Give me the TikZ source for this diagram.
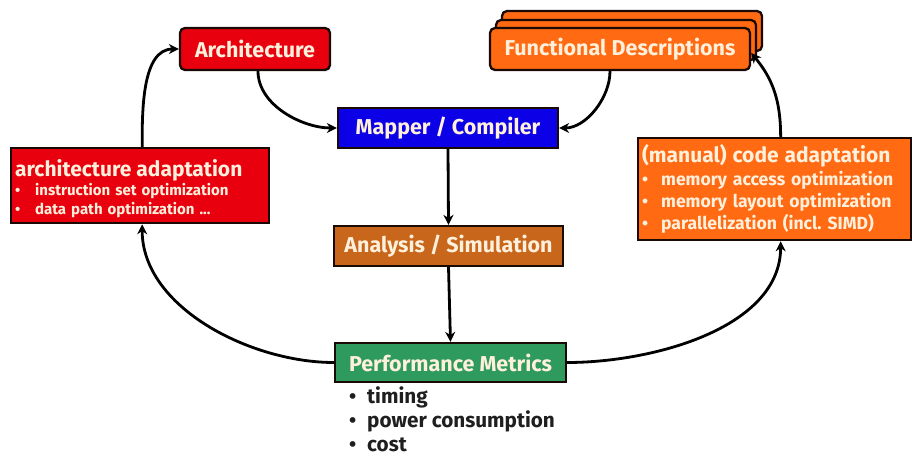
\documentclass[tikz,border=0pt]{standalone}
\usepackage{fontspec}
\setmainfont{Fira Sans}
\usetikzlibrary{arrows.meta}
\definecolor{archred}{HTML}{E8000E}
\definecolor{funcorange}{HTML}{FF6A12}
\definecolor{mapblue}{HTML}{0C00E6}
\definecolor{anabrown}{HTML}{C8661C}
\definecolor{perfgreen}{HTML}{2E9A5E}
\definecolor{boxtext}{HTML}{FFF0DC}
\definecolor{edge}{HTML}{1A0A05}
\newcommand{\itm}[2][18pt]{\mbox{\makebox[#1][l]{•}#2}}
\frenchspacing
\tikzset{
  box/.style={draw=edge, line width=2.3pt, text=boxtext, font=\bfseries\fontsize{21.5}{24}\selectfont,
    inner sep=0pt, align=center},
  rbox/.style={box, rounded corners=5pt},
  arr/.style={line width=2.8pt, -{Stealth[length=10pt,width=10pt]}},
}
\begin{document}
\begin{tikzpicture}[x=1pt,y=-1pt]
\useasboundingbox (0,0) rectangle (912,457);
% top row
\node[rbox, fill=archred, minimum width=150pt, minimum height=42pt] (arch) at (255,49) {Architecture};
\node[rbox, fill=funcorange, minimum width=260pt, minimum height=40pt] (funcC) at (632,31) {};
\node[rbox, fill=funcorange, minimum width=260pt, minimum height=40pt] (funcB) at (626,40) {};
\node[rbox, fill=funcorange, minimum width=260pt, minimum height=42pt] (func) at (620,49) {Functional Descriptions};
% central flow
\node[box, fill=mapblue, minimum width=220pt, minimum height=40pt] (map) at (448,128) {Mapper / Compiler};
\node[box, fill=anabrown, minimum width=229pt, minimum height=40pt] (ana) at (448.5,246) {Analysis / Simulation};
\node[box, fill=perfgreen, minimum width=231pt, minimum height=39pt] (perf) at (450.5,362.5) {Performance Metrics};
% metrics list
\node[anchor=north west, align=left, inner sep=0pt, text=black!88,
  font=\bfseries\fontsize{20.7}{24.2}\selectfont] (mets) at (349,386.5)
  {\itm{timing}\\ \itm{power consumption}\\ \itm{cost}};
% adaptation boxes
\node[box, fill=archred, anchor=north west, minimum width=258pt, minimum height=75pt,
  align=left, text width=250pt, inner xsep=4pt, inner ysep=0pt,
  font=\bfseries\fontsize{15}{18.5}\selectfont] (archad) at (10,147)
  {{\fontsize{21}{22}\selectfont\rule{0pt}{23pt}architecture adaptation}\\[0.5pt]
   \itm[20pt]{instruction set optimization}\\ \itm[20pt]{data path optimization ...}};
\node[box, fill=funcorange, anchor=north west, minimum width=273pt, minimum height=102pt,
  align=left, text width=265pt, inner xsep=4pt, inner ysep=0pt,
  font=\bfseries\fontsize{17.6}{22}\selectfont] (codead) at (637,137)
  {{\fontsize{21}{22}\selectfont (manual) code adaptation}\\[1pt]
   \itm[19pt]{memory access optimization}\\ \itm[19pt]{memory layout optimization}\\ \itm[19pt]{parallelization (incl. SIMD)}};
% connectors
\draw[arr] ([xshift=3pt]arch.south) to[out=-90, in=180, looseness=0.9] (map.west);
\draw[arr] ([xshift=-10pt]func.south) to[out=-90, in=0, looseness=0.9] (map.east);
\draw[arr] (map.south) -- (ana.north);
\draw[arr] (ana.south) -- (perf.north);
\draw[arr] (perf.west) to[out=180, in=-90, looseness=0.9] ([xshift=2pt]archad.south);
\draw[arr] (perf.east) to[out=0, in=-90, looseness=0.9] ([xshift=6pt]codead.south);
\draw[arr] ([xshift=2pt]archad.north) to[out=90, in=180, looseness=0.9] (arch.west);
\draw[arr] ([xshift=6pt]codead.north) to[out=90, in=-50, looseness=1] ([yshift=-4pt]func.east);
\end{tikzpicture}
\end{document}
